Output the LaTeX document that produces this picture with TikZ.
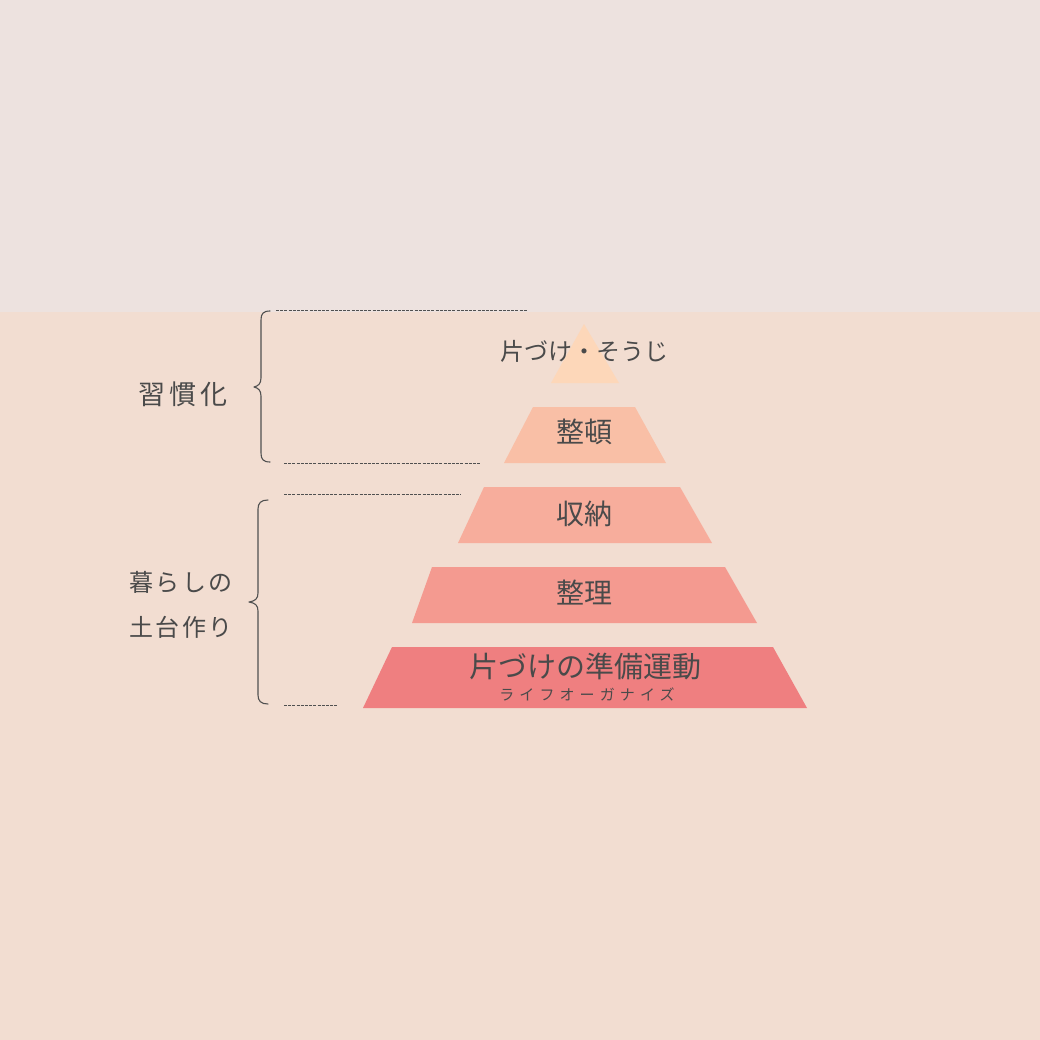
\documentclass[tikz,border=0pt]{standalone}
\usepackage{fontspec}
\newfontfamily\jp{Noto Sans CJK JP}
\newfontfamily\jpsp[LetterSpace=34]{Noto Sans CJK JP}
\newfontfamily\jpsideA[LetterSpace=16]{Noto Sans CJK JP}
\newfontfamily\jpsideB[LetterSpace=11]{Noto Sans CJK JP}
\definecolor{bgtop}{HTML}{EDE2DF}
\definecolor{bgbot}{HTML}{F2DDD1}
\definecolor{lvA}{HTML}{FDD7B9}
\definecolor{lvB}{HTML}{F9BFA6}
\definecolor{lvC}{HTML}{F7AD9C}
\definecolor{lvD}{HTML}{F49A90}
\definecolor{lvE}{HTML}{EF7F80}
\definecolor{ink}{HTML}{4A4A4A}
\definecolor{rule}{HTML}{505050}
\begin{document}
\begin{tikzpicture}[x=1pt,y=-1pt,
  lbl/.style={text=ink,inner sep=0pt,font=\jp\fontsize{28}{28}\selectfont},
  side/.style={text=ink,inner sep=0pt,align=center,font=\jpsideB\fontsize{24}{45}\selectfont},
  guide/.style={draw=rule,line width=0.9pt,dash pattern=on 3pt off 1.2pt},
  brace/.style={draw=rule,line width=1.1pt,line cap=round,line join=round}]
\useasboundingbox (0,0) rectangle (1040,1040);
\fill[bgtop] (0,0) rectangle (1040,312);
\fill[bgbot] (0,312) rectangle (1040,1040);
% pyramid levels
\fill[lvA] (584,324) -- (619,383) -- (551,383) -- cycle;
\fill[lvB] (533,407) -- (635,407) -- (666,463) -- (504,463) -- cycle;
\fill[lvC] (484,487) -- (680,487) -- (712,543) -- (458,543) -- cycle;
\fill[lvD] (432,567) -- (725,567) -- (757,623) -- (412,623) -- cycle;
\fill[lvE] (392,647) -- (773,647) -- (807,708) -- (363,708) -- cycle;
% labels
\node[lbl,font=\jp\fontsize{24}{24}\selectfont] (tA) at (584,351) {片づけ・そうじ};
\node[lbl] (tB) at (584,432) {整頓};
\node[lbl] (tC) at (584,514) {収納};
\node[lbl] (tD) at (584,593) {整理};
\node[lbl,font=\jp\fontsize{29}{29}\selectfont] (tE) at (585,666) {片づけの準備運動};
\node[lbl,font=\jpsp\fontsize{15}{15}\selectfont] (tF) at (587,694) {ライフオーガナイズ};
% guides
\coordinate (g1a) at (276,310); \coordinate (g1b) at (527,310);
\coordinate (g2a) at (284,463); \coordinate (g2b) at (480,463);
\coordinate (g3a) at (284,494); \coordinate (g3b) at (461,494);
\coordinate (g4a) at (284,705); \coordinate (g4b) at (337,705);
\draw[guide] (g1a) -- (g1b);
\draw[guide] (g2a) -- (g2b);
\draw[guide] (g3a) -- (g3b);
\draw[guide] (g4a) -- (g4b);
% braces
\draw[brace] (270,311) .. controls (263,311) and (261,314) .. (261,320) -- (261,378)
  .. controls (261,384) and (258,386) .. (254,387)
  .. controls (258,388) and (261,390) .. (261,396) -- (261,453)
  .. controls (261,459) and (263,462) .. (270,462);
\draw[brace] (268,500) .. controls (261,500) and (258,503) .. (258,509) -- (258,593)
  .. controls (258,599) and (255,601) .. (249,602)
  .. controls (255,603) and (258,605) .. (258,611) -- (258,695)
  .. controls (258,701) and (261,704) .. (268,704);
% side labels
\node[side,font=\jpsideA\fontsize{27}{27}\selectfont] (s1) at (183,394) {習慣化};
\node[side] (s2) at (181,605) {暮らしの\\土台作り};
\end{tikzpicture}
\end{document}
